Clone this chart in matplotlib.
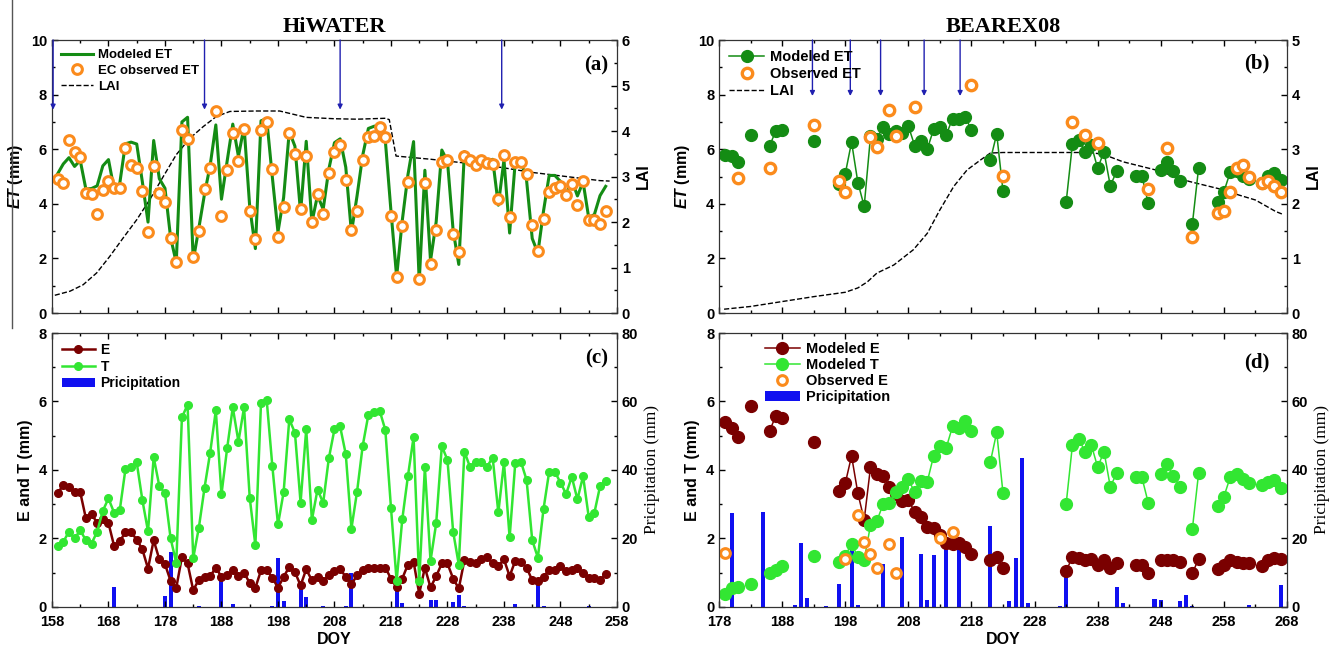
import numpy as np
import pandas as pd
from matplotlib import pyplot as plt
from matplotlib.ticker import MultipleLocator

plt.rcParams['font.family'] = ['Liberation Sans', 'DejaVu Sans']
plt.rcParams['font.weight'] = 'bold'
plt.rcParams['mathtext.fontset'] = 'custom'
plt.rcParams['mathtext.it'] = 'Liberation Sans:italic:bold'
plt.rcParams['mathtext.rm'] = 'Liberation Sans:bold'

# ---------------- HiWATER (daily, DOY 159-256) ----------------
hi_doy = np.arange(159, 257)
hi_et_model = [5.10, 5.46, 5.69, 5.37, 5.59, 4.54, 4.56, 4.66, 5.39, 5.62,
               4.53, 4.75, 6.20, 6.26, 6.19, 4.80, 3.33, 6.32, 4.92, 4.57,
               2.76, 1.85, 7.00, 7.17, 1.92, 3.12, 4.36, 5.41, 6.89, 4.17,
               5.56, 6.92, 5.74, 6.83, 3.89, 2.36, 7.04, 7.12, 4.98, 2.97,
               4.23, 6.65, 6.11, 3.68, 6.29, 3.32, 4.31, 3.80, 5.27, 6.24,
               6.38, 5.34, 2.95, 4.30, 5.78, 6.76, 6.84, 6.88, 6.32, 3.73,
               1.33, 3.39, 5.06, 6.28, 1.15, 5.23, 1.92, 3.34, 5.97, 5.56,
               3.03, 1.78, 5.91, 5.40, 5.51, 5.63, 5.56, 5.63, 3.95, 5.61,
               2.93, 5.56, 5.56, 4.86, 2.73, 2.20, 3.74, 5.04, 5.04, 4.82,
               4.35, 4.87, 4.29, 4.80, 3.49, 3.61, 4.30, 4.64]
hi_et_obs = [4.91, 4.78, 6.34, 5.91, 5.73, 4.39, 4.35, 3.63, 4.51, 4.85,
             4.57, 4.57, 6.04, 5.43, 5.30, 4.48, 2.96, 5.39, 4.39, 4.06,
             2.74, 1.87, 6.71, 6.37, 2.04, 3.01, 4.54, 5.33, 7.40, 3.57,
             5.24, 6.61, 5.57, 6.74, 3.72, 2.71, 6.71, 7.01, 5.27, 2.77,
             3.90, 6.59, 5.82, 3.82, 5.77, 3.33, 4.37, 3.62, 5.12, 5.89,
             6.16, 4.88, 3.05, 3.74, 5.59, 6.46, 6.50, 6.80, 6.46, 3.56,
             1.32, 3.17, 4.79, np.nan, 1.24, 4.78, 1.79, 3.05, 5.52, 5.61,
             2.89, 2.22, 5.76, 5.61, 5.43, 5.61, 5.51, 5.45, 4.18, 5.79,
             3.50, 5.52, 5.52, 5.09, 3.23, 2.28, 3.44, 4.45, 4.57, 4.66,
             4.33, 4.73, 3.94, 4.85, 3.41, 3.39, 3.26, 3.72]
hi_e = [3.32, 3.56, 3.49, 3.37, 3.35, 2.59, 2.71, 2.46, 2.58, 2.45,
        1.78, 1.92, 2.18, 2.18, 1.97, 1.68, 1.12, 1.95, 1.39, 1.25,
        0.76, 0.56, 1.46, 1.27, 0.49, 0.80, 0.88, 0.90, 1.15, 0.88,
        0.93, 1.09, 0.91, 1.00, 0.70, 0.56, 1.07, 1.07, 0.86, 0.56,
        0.88, 1.17, 1.02, 0.63, 1.10, 0.78, 0.88, 0.76, 0.93, 1.05,
        1.11, 0.88, 0.66, 0.93, 1.07, 1.15, 1.15, 1.15, 1.15, 0.83,
        0.57, 0.83, 1.24, 1.32, 0.39, 1.15, 0.57, 0.90, 1.27, 1.27,
        0.83, 0.54, 1.37, 1.32, 1.27, 1.39, 1.46, 1.27, 1.19, 1.39,
        0.90, 1.35, 1.32, 1.15, 0.78, 0.76, 0.88, 1.09, 1.09, 1.19,
        1.05, 1.07, 1.15, 0.98, 0.86, 0.86, 0.78, 0.96]
hi_t = [1.78, 1.90, 2.20, 2.00, 2.24, 1.95, 1.85, 2.20, 2.81, 3.17,
        2.75, 2.83, 4.02, 4.08, 4.22, 3.12, 2.21, 4.37, 3.53, 3.32,
        2.00, 1.29, 5.54, 5.90, 1.43, 2.32, 3.48, 4.51, 5.74, 3.29,
        4.63, 5.83, 4.83, 5.83, 3.19, 1.80, 5.97, 6.05, 4.12, 2.41,
        3.35, 5.48, 5.09, 3.05, 5.19, 2.54, 3.43, 3.04, 4.34, 5.19,
        5.27, 4.46, 2.29, 3.37, 4.71, 5.61, 5.69, 5.73, 5.17, 2.90,
        0.76, 2.56, 3.82, 4.96, 0.76, 4.08, 1.35, 2.44, 4.70, 4.29,
        2.20, 1.24, 4.54, 4.08, 4.24, 4.24, 4.10, 4.36, 2.76, 4.22,
        2.03, 4.21, 4.24, 3.71, 1.95, 1.44, 2.86, 3.95, 3.95, 3.63,
        3.30, 3.80, 3.14, 3.82, 2.63, 2.75, 3.52, 3.68]
hi_lai_doy = [158.5, 161.2, 163.5, 165.9, 168.2, 170.6, 173, 175.3, 177.7, 180,
              182.4, 184.8, 187.1, 189.5, 194.2, 198.3, 203, 208, 212, 217,
              217.7, 218.9, 225, 231.6, 237.5, 243, 249, 255, 256.7]
hi_lai = [0.39, 0.48, 0.62, 0.88, 1.24, 1.65, 2.05, 2.49, 3.0, 3.48,
          3.84, 4.1, 4.32, 4.43, 4.44, 4.44, 4.3, 4.27, 4.26, 4.28,
          4.25, 3.45, 3.38, 3.29, 3.2, 3.09, 3.0, 2.91, 2.9]
hi_rain_doy = [169, 178, 179, 184, 188, 190, 197, 198, 199, 202, 203, 206, 210,
               211, 219, 220, 225, 226, 229, 230, 231, 240, 244, 245, 253]
hi_rain = [5.7, 3.2, 16.1, 0.2, 8.6, 0.8, 0.2, 14.3, 1.8, 7.3, 2.9, 0.2, 0.2,
           9.8, 5.7, 1.3, 2.1, 2.0, 1.5, 3.6, 0.2, 0.8, 6.6, 0.2, 0.2]
hi_irr_doy = [158.2, 185, 209, 237.6]

# ---------------- BEAREX08 ----------------
bx_doy = [179, 180, 181, 183, 186, 187, 188, 193, 197, 198, 199, 200, 201, 202,
          203, 204, 205, 206, 207, 208, 209, 210, 211, 212, 213, 214, 215, 216,
          217, 218, 221, 222, 223, 233, 234, 235, 236, 237, 238, 239, 240, 241,
          244, 245, 246, 248, 249, 250, 251, 253, 254, 257, 258, 259, 260, 261,
          262, 264, 265, 266, 267]
bx_et_model = [5.80, 5.76, 5.54, 6.53, 6.12, 6.67, 6.72, 6.31, 4.71, 5.10, 6.26,
               4.78, 3.91, 6.47, 6.39, 6.83, 6.56, 6.65, 6.61, 6.85, 6.13, 6.31,
               6.00, 6.73, 6.80, 6.53, 7.12, 7.09, 7.18, 6.71, 5.61, 6.56, 4.46,
               4.05, 6.19, 6.33, 5.91, 6.14, 5.30, 5.91, 4.66, 5.19, 5.03, 5.03,
               4.03, 5.24, 5.54, 5.20, 4.83, 3.25, 5.33, 4.07, 4.44, 5.16, 5.19,
               5.03, 4.90, 4.75, 5.03, 5.14, 4.86]
bx_e = [5.41, 5.22, 4.95, 5.87, 5.14, 5.58, 5.53, 4.83, 3.39, 3.61, 4.41, 3.32,
        2.54, 4.08, 3.88, 3.83, 3.51, 3.30, 3.10, 3.12, 2.78, 2.63, 2.34, 2.32,
        2.10, 1.88, 1.85, 1.87, 1.75, 1.56, 1.37, 1.46, 1.14, 1.05, 1.46, 1.43,
        1.37, 1.41, 1.22, 1.37, 1.15, 1.29, 1.24, 1.24, 0.98, 1.37, 1.37, 1.37,
        1.32, 0.98, 1.41, 1.12, 1.22, 1.37, 1.32, 1.29, 1.29, 1.19, 1.37, 1.43,
        1.40]
bx_t = [0.39, 0.54, 0.59, 0.66, 0.98, 1.09, 1.19, 1.48, 1.32, 1.49, 1.85, 1.46,
        1.37, 2.39, 2.51, 3.00, 3.05, 3.35, 3.51, 3.73, 3.35, 3.68, 3.66, 4.41,
        4.70, 4.65, 5.27, 5.22, 5.43, 5.15, 4.24, 5.10, 3.32, 3.00, 4.73, 4.90,
        4.54, 4.73, 4.08, 4.54, 3.51, 3.90, 3.79, 3.79, 3.05, 3.87, 4.17, 3.83,
        3.51, 2.27, 3.92, 2.95, 3.22, 3.79, 3.87, 3.74, 3.61, 3.56, 3.66, 3.71,
        3.46]
bx_obs_doy = [181, 186, 193, 197, 198, 202, 203, 205, 206, 209, 218, 223, 234,
              236, 238, 246, 249, 253, 257, 258, 259, 260, 261, 262, 264, 265,
              266, 267]
bx_et_obs = [4.96, 5.30, 6.87, 4.82, 4.45, 6.46, 6.07, 7.44, 6.49, 7.54, 8.35,
             5.02, 7.01, 6.52, 6.24, 4.54, 6.04, 2.78, 3.66, 3.72, 4.45, 5.33,
             5.43, 5.00, 4.76, 4.82, 4.67, 4.43]
bx_e_obs_doy = [179, 198, 200, 201, 202, 203, 205, 206, 213, 215]
bx_e_obs = [1.58, 1.41, 2.68, 1.90, 1.54, 1.14, 1.85, 1.00, 2.00, 2.20]
bx_lai_doy = [178.8, 183, 188, 193, 198, 200, 201.5, 203, 205.7, 208.8, 211,
              213, 215.2, 217.3, 219.4, 221, 223, 226, 231, 236.6, 238.8, 242,
              247.2, 252.5, 257.8, 260.4, 263, 266.2, 267.5]
bx_lai = [0.07, 0.12, 0.21, 0.30, 0.38, 0.46, 0.57, 0.73, 0.88, 1.16, 1.46,
          1.89, 2.32, 2.62, 2.80, 2.93, 2.94, 2.94, 2.94, 2.94, 2.91, 2.77,
          2.62, 2.41, 2.26, 2.16, 2.07, 1.86, 1.80]
bx_rain_doy = [180, 185, 190, 191, 192, 195, 197, 199, 200, 204, 207, 210, 211,
               212, 214, 216, 221, 224, 225, 226, 227, 232, 233, 241, 242, 247,
               248, 251, 252, 253, 262, 267]
bx_rain = [27.5, 27.8, 0.5, 18.8, 2.6, 0.2, 6.8, 18.5, 0.5, 12.5, 20.3, 15.4,
           2.0, 15.1, 17.8, 17.8, 23.6, 1.8, 14.3, 43.4, 1.2, 0.2, 9.8, 5.7,
           1.3, 2.2, 2.0, 1.7, 3.6, 0.3, 0.7, 6.5]
bx_irr_doy = [192.8, 198.8, 203.6, 210.5, 216.2]

GREEN = '#148c14'
ORANGE = '#fb8b1c'
DARKRED = '#7a0000'
LIME = '#32e632'
BLUE = '#1010f0'
ARROW = '#2020b0'
SERIF = 'Liberation Serif'


def daily(days, vals, start, stop):
    # missing days become NaN so the line breaks there
    return pd.Series(vals, index=days).reindex(range(start, stop + 1))


def style(ax, xmin, xmax, show_x=True):
    ax.set_xlim(xmin, xmax)
    ax.set_xticks(np.arange(xmin, xmax + 1, 10))
    ax.set_xticks(np.arange(xmin + 5, xmax, 10), minor=True)
    ax.tick_params(which='both', direction='in', top=True, right=False,
                   labelsize=10.5, width=1)
    ax.tick_params(which='major', length=4)
    ax.tick_params(which='minor', length=2.5)
    ax.tick_params(axis='x', pad=6)
    if not show_x:
        ax.tick_params(labelbottom=False)
    for s in ax.spines.values():
        s.set_color('#333333')


def style_twin(ax2):
    ax2.tick_params(which='both', direction='in', labelsize=10.5, width=1)
    ax2.tick_params(which='major', length=4)
    ax2.tick_params(which='minor', length=2.5)


fig = plt.figure(figsize=(13.43, 6.55), dpi=100)
ax_a = fig.add_axes([0.0387, 0.5221, 0.4207, 0.4168])
ax_c = fig.add_axes([0.0387, 0.0733, 0.4207, 0.4183])
ax_b = fig.add_axes([0.5354, 0.5221, 0.4229, 0.4168])
ax_d = fig.add_axes([0.5354, 0.0733, 0.4229, 0.4183])

fig.add_artist(plt.Line2D([0.009, 0.009], [0.5, 1.0], color='#555555', lw=1))

# ---- (a) HiWATER ET ----
ax_a2 = ax_a.twinx()
ax_a.set_zorder(ax_a2.get_zorder() + 1)
ax_a.patch.set_visible(False)
ax_a.plot(hi_doy, hi_et_model, color=GREEN, lw=2.2, label='Modeled ET')
ax_a.plot(hi_doy, hi_et_obs, 'o', ms=7, mfc='white', mec=ORANGE, mew=2.2,
          label='EC observed ET')
ax_a.plot([], [], '--', color='black', lw=1, label='LAI')
ax_a2.plot(hi_lai_doy, hi_lai, '--', color='black', lw=1)
for d in hi_irr_doy:
    ax_a.annotate('', xy=(d, 7.45), xytext=(d, 10),
                  arrowprops=dict(arrowstyle='-|>', color=ARROW, lw=1,
                                  mutation_scale=7, shrinkA=0, shrinkB=0))
ax_a.set_ylim(0, 10)
ax_a.yaxis.set_major_locator(MultipleLocator(2))
ax_a.yaxis.set_minor_locator(MultipleLocator(1))
ax_a2.set_ylim(0, 6)
ax_a2.yaxis.set_major_locator(MultipleLocator(1))
ax_a2.yaxis.set_minor_locator(MultipleLocator(0.5))
style(ax_a, 158, 258, show_x=False)
style_twin(ax_a2)
ax_a.set_ylabel(r'$ET$ (mm)', fontsize=11.5, fontweight='bold')
ax_a2.set_ylabel('LAI', fontsize=11.5, fontweight='bold')
ax_a.set_title('HiWATER', fontfamily=SERIF, fontsize=16, fontweight='bold', pad=6)
ax_a.legend(loc='upper left', frameon=False, fontsize=9.5, handlelength=2.4,
            labelspacing=0.25, borderaxespad=0.3, handletextpad=0.4)
ax_a.text(0.985, 0.945, '(a)', transform=ax_a.transAxes, ha='right', va='top',
          fontfamily=SERIF, fontsize=15, fontweight='bold')

# ---- (c) HiWATER E, T, rain ----
ax_c2 = ax_c.twinx()
ax_c.set_zorder(ax_c2.get_zorder() + 1)
ax_c.patch.set_visible(False)
bars_c = ax_c2.bar(hi_rain_doy, hi_rain, width=0.7, color=BLUE)
le, = ax_c.plot(hi_doy, hi_e, '-o', color=DARKRED, lw=1.8, ms=5.5)
lt, = ax_c.plot(hi_doy, hi_t, '-o', color=LIME, lw=1.8, ms=5.5)
ax_c.set_ylim(0, 8)
ax_c.yaxis.set_major_locator(MultipleLocator(2))
ax_c.yaxis.set_minor_locator(MultipleLocator(1))
ax_c2.set_ylim(0, 80)
ax_c2.yaxis.set_major_locator(MultipleLocator(20))
ax_c2.yaxis.set_minor_locator(MultipleLocator(10))
style(ax_c, 158, 258)
style_twin(ax_c2)
ax_c.set_ylabel('E and T (mm)', fontsize=11.5, fontweight='bold')
ax_c2.set_ylabel('Pricipitation (mm)', fontfamily=SERIF, fontsize=12.5)
ax_c.set_xlabel('DOY', fontsize=11.5, fontweight='bold', labelpad=2)
ax_c.legend([le, lt, bars_c], ['E', 'T', 'Pricipitation'], loc='upper left',
            frameon=False, fontsize=10, handlelength=2.4, labelspacing=0.2,
            borderaxespad=0.3, handletextpad=0.4)
ax_c.text(0.985, 0.945, '(c)', transform=ax_c.transAxes, ha='right', va='top',
          fontfamily=SERIF, fontsize=15, fontweight='bold')

# ---- (b) BEAREX08 ET ----
ax_b2 = ax_b.twinx()
ax_b.set_zorder(ax_b2.get_zorder() + 1)
ax_b.patch.set_visible(False)
et_b = daily(bx_doy, bx_et_model, 178, 268)
ax_b.plot(et_b.index, et_b.values, '-o', color=GREEN, lw=1.1, ms=8.5,
          label='Modeled ET')
ax_b.plot(bx_obs_doy, bx_et_obs, 'o', ms=7.5, mfc='white', mec=ORANGE, mew=2.4,
          label='Observed ET')
ax_b.plot([], [], '--', color='black', lw=1, label='LAI')
ax_b2.plot(bx_lai_doy, bx_lai, '--', color='black', lw=1)
for d in bx_irr_doy:
    ax_b.annotate('', xy=(d, 7.95), xytext=(d, 10),
                  arrowprops=dict(arrowstyle='-|>', color=ARROW, lw=1,
                                  mutation_scale=7, shrinkA=0, shrinkB=0))
ax_b.set_ylim(0, 10)
ax_b.yaxis.set_major_locator(MultipleLocator(2))
ax_b.yaxis.set_minor_locator(MultipleLocator(1))
ax_b2.set_ylim(0, 5)
ax_b2.yaxis.set_major_locator(MultipleLocator(1))
ax_b2.yaxis.set_minor_locator(MultipleLocator(0.5))
style(ax_b, 178, 268, show_x=False)
style_twin(ax_b2)
ax_b.set_ylabel(r'$ET$ (mm)', fontsize=11.5, fontweight='bold')
ax_b2.set_ylabel('LAI', fontsize=11.5, fontweight='bold')
ax_b.set_title('BEAREX08', fontfamily=SERIF, fontsize=16, fontweight='bold', pad=6)
ax_b.legend(loc='upper left', frameon=False, fontsize=10.5, handlelength=2.4,
            labelspacing=0.2, borderaxespad=0.3, handletextpad=0.4)
ax_b.text(0.97, 0.95, '(b)', transform=ax_b.transAxes, ha='right', va='top',
          fontfamily=SERIF, fontsize=15, fontweight='bold')

# ---- (d) BEAREX08 E, T, rain ----
ax_d2 = ax_d.twinx()
ax_d.set_zorder(ax_d2.get_zorder() + 1)
ax_d.patch.set_visible(False)
bars_d = ax_d2.bar(bx_rain_doy, bx_rain, width=0.65, color=BLUE)
e_d = daily(bx_doy, bx_e, 178, 268)
t_d = daily(bx_doy, bx_t, 178, 268)
le_d, = ax_d.plot(e_d.index, e_d.values, '-o', color=DARKRED, lw=1.1, ms=8.5)
lt_d, = ax_d.plot(t_d.index, t_d.values, '-o', color=LIME, lw=1.1, ms=8.5)
lo_d, = ax_d.plot(bx_e_obs_doy, bx_e_obs, 'o', ms=7, mfc='white', mec=ORANGE,
                  mew=2.2)
ax_d.set_ylim(0, 8)
ax_d.yaxis.set_major_locator(MultipleLocator(2))
ax_d.yaxis.set_minor_locator(MultipleLocator(1))
ax_d2.set_ylim(0, 80)
ax_d2.yaxis.set_major_locator(MultipleLocator(20))
ax_d2.yaxis.set_minor_locator(MultipleLocator(10))
style(ax_d, 178, 268)
style_twin(ax_d2)
ax_d.set_ylabel('E and T (mm)', fontsize=11.5, fontweight='bold')
ax_d2.set_ylabel('Pricipitation (mm)', fontfamily=SERIF, fontsize=12.5)
ax_d.set_xlabel('DOY', fontsize=11.5, fontweight='bold', labelpad=2)
ax_d.legend([le_d, lt_d, lo_d, bars_d],
            ['Modeled E', 'Modeled T', 'Observed E', 'Pricipitation'],
            loc='upper left', bbox_to_anchor=(0.065, 1.0), frameon=False,
            fontsize=10.5, handlelength=2.4, labelspacing=0.15,
            borderaxespad=0.2, handletextpad=0.4)
ax_d.text(0.97, 0.93, '(d)', transform=ax_d.transAxes, ha='right', va='top',
          fontfamily=SERIF, fontsize=15, fontweight='bold')

fig.savefig('out.png', dpi=100)
